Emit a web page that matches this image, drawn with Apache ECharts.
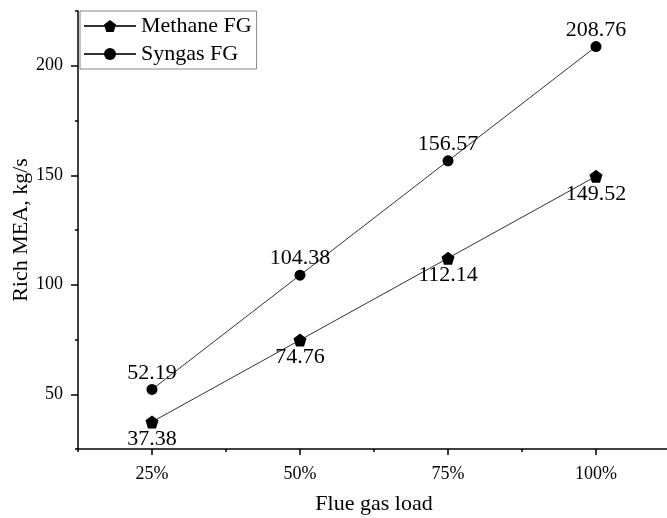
<!DOCTYPE html>
<html>
<head>
<meta charset="utf-8">
<script src="https://cdn.jsdelivr.net/npm/echarts@6/dist/echarts.min.js"></script>
<style>
  html, body { margin: 0; padding: 0; background: #fff; }
  #chart { width: 667px; height: 518px; }
</style>
</head>
<body>
<div id="chart"></div>
<script>
// Flue gas load (%) on the x axis
const loads = [25, 50, 75, 100];
// Rich MEA flow, kg/s
const methaneFG = [37.38, 74.76, 112.14, 149.52];
const syngasFG = [52.19, 104.38, 156.57, 208.76];
// Tick positions
const xMajorTicks = [25, 50, 75, 100];
const xMinorTicks = [12.5, 37.5, 62.5, 87.5, 112.5];
const yMajorTicks = [50, 100, 150, 200];
const yMinorTicks = [25, 75, 125, 175, 225];

const FONT = '"Liberation Serif", "Times New Roman", serif';
const pentagon = 'path://M0,-1 L0.951,-0.309 L0.588,0.809 L-0.588,0.809 L-0.951,-0.309 Z';

const chart = echarts.init(document.getElementById('chart'), null, { renderer: 'canvas' });

const axisLineStyle = { color: '#000', width: 1.5 };

chart.setOption({
  backgroundColor: '#fff',
  animation: false,
  textStyle: { fontFamily: FONT, color: '#000' },
  grid: { left: 78, top: 11, width: 592, height: 438, outerBoundsMode: 'none', containLabel: false },
  legend: {
    orient: 'vertical',
    left: 80,
    top: 11,
    padding: [4, 5, 4, 3],
    itemWidth: 52,
    itemHeight: 15,
    itemGap: 6,
    borderColor: '#888',
    borderWidth: 1,
    backgroundColor: '#fff',
    textStyle: { fontFamily: FONT, fontSize: 22, color: '#000' },
    data: ['Methane FG', 'Syngas FG']
  },
  xAxis: [
    {
      type: 'value', min: 12.5, max: 112.5,
      name: 'Flue gas load', nameLocation: 'middle', nameGap: 44, nameMoveOverlap: false,
      nameTextStyle: { fontFamily: FONT, fontSize: 22, color: '#000' },
      axisLine: { lineStyle: axisLineStyle },
      axisTick: { show: true, length: 6, customValues: xMajorTicks, lineStyle: axisLineStyle },
      axisLabel: { customValues: xMajorTicks, margin: 16, fontFamily: FONT, fontSize: 18, color: '#000',
        formatter: v => v + '%' },
      splitLine: { show: false }
    },
    {
      type: 'value', min: 12.5, max: 112.5, position: 'bottom',
      axisLine: { show: false },
      axisTick: { show: true, length: 3, customValues: xMinorTicks, lineStyle: axisLineStyle },
      axisLabel: { show: false },
      splitLine: { show: false }
    }
  ],
  yAxis: [
    {
      type: 'value', min: 25, max: 225,
      name: 'Rich MEA, kg/s', nameLocation: 'middle', nameGap: 46, nameMoveOverlap: false,
      nameTextStyle: { fontFamily: FONT, fontSize: 22, color: '#000' },
      axisLine: { show: true, lineStyle: axisLineStyle },
      axisTick: { show: true, length: 7, customValues: yMajorTicks, lineStyle: axisLineStyle },
      axisLabel: { customValues: yMajorTicks, margin: 15, fontFamily: FONT, fontSize: 18, color: '#000' },
      splitLine: { show: false }
    },
    {
      type: 'value', min: 25, max: 225, position: 'left',
      axisLine: { show: false },
      axisTick: { show: true, length: 3, customValues: yMinorTicks, lineStyle: axisLineStyle },
      axisLabel: { show: false },
      splitLine: { show: false }
    }
  ],
  series: [
    {
      name: 'Methane FG',
      type: 'line',
      data: loads.map((x, i) => [x, methaneFG[i]]),
      symbol: pentagon,
      symbolSize: 13,
      lineStyle: { color: '#333', width: 1 },
      itemStyle: { color: '#000' },
      label: { show: true, position: 'bottom', distance: 0, fontFamily: FONT, fontSize: 22, color: '#000',
        formatter: p => p.value[1].toFixed(2) }
    },
    {
      name: 'Syngas FG',
      type: 'line',
      data: loads.map((x, i) => [x, syngasFG[i]]),
      symbol: 'circle',
      symbolSize: 11,
      lineStyle: { color: '#333', width: 1 },
      itemStyle: { color: '#000' },
      label: { show: true, position: 'top', distance: 0, fontFamily: FONT, fontSize: 22, color: '#000',
        formatter: p => p.value[1].toFixed(2) }
    }
  ]
});
</script>
</body>
</html>
